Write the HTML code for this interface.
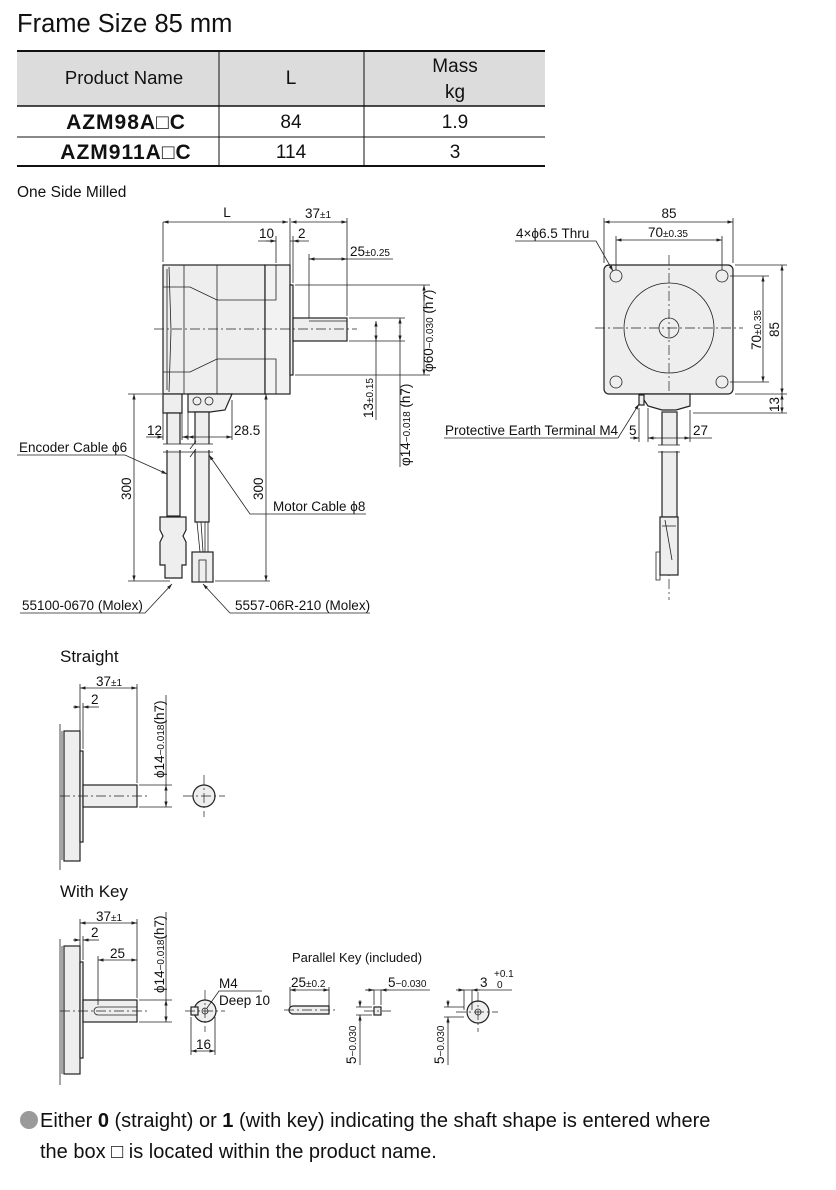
<!DOCTYPE html>
<html><head><meta charset="utf-8"><style>
html,body{margin:0;padding:0;background:#fff;}
svg{display:block;}
text{font-family:"Liberation Sans Narrow","Liberation Sans",sans-serif;fill:#111;}
.t{font-size:13.5px;}
.s{font-size:10px;}
.ln{stroke:#222;stroke-width:0.8;fill:none;}
.bd{stroke:#222;stroke-width:1.2;fill:#eeeeee;}
.cl{stroke:#222;stroke-width:0.7;stroke-dasharray:10 3 2 3;fill:none;}
</style></head><body>
<svg width="836" height="1190" viewBox="0 0 836 1190" xmlns="http://www.w3.org/2000/svg">
<defs>
<marker id="a" viewBox="0 0 10 10" refX="10" refY="5" markerWidth="7" markerHeight="7" orient="auto-start-reverse"><path d="M0,2 L10,5 L0,8 z" fill="#222"/></marker>
</defs>
<!-- Title -->
<text x="17" y="32" style="font-family:'Liberation Sans',sans-serif;font-size:25.5px">Frame Size 85 mm</text>
<!-- Table -->
<rect x="17" y="50" width="528" height="56" fill="#dcdcdc"/>
<line x1="17" y1="51" x2="545" y2="51" stroke="#111" stroke-width="2"/>
<line x1="17" y1="106" x2="545" y2="106" stroke="#111" stroke-width="1.5"/>
<line x1="17" y1="137" x2="545" y2="137" stroke="#111" stroke-width="1"/>
<line x1="17" y1="166" x2="545" y2="166" stroke="#111" stroke-width="2"/>
<line x1="219" y1="51" x2="219" y2="166" stroke="#111" stroke-width="1"/>
<line x1="364" y1="51" x2="364" y2="166" stroke="#111" stroke-width="1"/>
<text x="124" y="84" text-anchor="middle" style="font-size:18.5px">Product Name</text>
<text x="291" y="84" text-anchor="middle" style="font-size:19px">L</text>
<text x="455" y="72" text-anchor="middle" style="font-size:19px">Mass</text>
<text x="455" y="98" text-anchor="middle" style="font-size:19px">kg</text>
<text x="126" y="129" text-anchor="middle" style="font-family:'Liberation Sans',sans-serif;font-weight:bold;font-size:21px;letter-spacing:1px">AZM98A□C</text>
<text x="126" y="159" text-anchor="middle" style="font-family:'Liberation Sans',sans-serif;font-weight:bold;font-size:21px;letter-spacing:1px">AZM911A□C</text>
<text x="291" y="128" text-anchor="middle" style="font-size:19px">84</text>
<text x="291" y="158" text-anchor="middle" style="font-size:19px">114</text>
<text x="455" y="128" text-anchor="middle" style="font-size:19px">1.9</text>
<text x="455" y="158" text-anchor="middle" style="font-size:19px">3</text>
<text x="17" y="197" style="font-size:15.5px">One Side Milled</text>

<!-- ===== Side view ===== -->
<rect x="163" y="265" width="102" height="129" class="bd"/>
<rect x="265" y="265" width="25" height="129" class="bd" style="fill:#f2f2f2"/>
<rect x="290" y="285" width="3" height="90" class="bd"/>
<rect x="293" y="318" width="54" height="23" class="bd"/>
<line x1="309" y1="321" x2="347" y2="321" class="ln"/>
<line x1="184" y1="265" x2="184" y2="394" class="ln"/>
<line x1="217" y1="265" x2="217" y2="394" class="ln"/>
<path d="M167,269 L167,390 M169,267 L171,330 L169,392" class="ln"/>
<path d="M163,287 L190,287 L217,300 L276,300 L276,265" class="ln"/>
<path d="M163,372 L190,372 L217,359 L276,359 L276,394" class="ln"/>
<line x1="154" y1="329" x2="357" y2="329" class="cl"/>
<!-- cables side -->
<rect x="163" y="394" width="19" height="19" class="bd"/>
<rect x="167" y="413" width="13" height="103" class="bd"/>
<path d="M160,517 L186,517 L186,530 L183,536 L186,542 L186,565 L182,565 L182,578 L165,578 L165,565 L160,565 L160,542 L163,536 L160,530 Z" class="bd"/>
<path d="M188,394 L232,394 L225,410 L210,412 L188,412 Z" class="bd"/>
<circle cx="197" cy="401" r="4" class="ln"/><circle cx="209" cy="401" r="4" class="ln"/>
<rect x="195" y="412" width="14" height="110" class="bd"/>
<path d="M197,522 L200,552 M201,522 L203,552 M205,522 L205,552 M208,522 L208,552" class="ln"/>
<rect x="192" y="552" width="21" height="30" class="bd"/>
<rect x="199" y="560" width="7" height="22" class="ln"/>
<line x1="163" y1="447" x2="215" y2="447" stroke="#fff" stroke-width="6"/>
<path d="M163,444 L213,444 M163,452 L213,452 M190,449 L196,441 M190,457 L196,449" class="ln"/>
<!-- dims side -->
<line x1="163" y1="222" x2="163" y2="262" class="ln"/>
<line x1="290" y1="218" x2="290" y2="282" class="ln"/>
<line x1="347" y1="218" x2="347" y2="316" class="ln"/>
<line x1="163" y1="222" x2="288" y2="222" class="ln" marker-start="url(#a)" marker-end="url(#a)"/>
<line x1="291" y1="222" x2="347" y2="222" class="ln" marker-start="url(#a)" marker-end="url(#a)"/>
<text x="227" y="217" class="t" text-anchor="middle">L</text>
<text x="305" y="218" class="t">37<tspan class="s">±1</tspan></text>
<line x1="276" y1="236" x2="276" y2="263" class="ln"/>
<line x1="293" y1="236" x2="293" y2="283" class="ln"/>
<path d="M258,241 L276,241 M290,241 L309,241" class="ln"/>
<line x1="266" y1="241" x2="276" y2="241" class="ln" marker-end="url(#a)"/>
<line x1="300" y1="241" x2="293" y2="241" class="ln" marker-end="url(#a)"/>
<text x="259" y="238" class="t">10</text><text x="298" y="238" class="t">2</text>
<line x1="309" y1="254" x2="309" y2="318" class="ln"/>
<line x1="309" y1="259" x2="393" y2="259" class="ln"/>
<line x1="309" y1="259" x2="347" y2="259" class="ln" marker-start="url(#a)" marker-end="url(#a)"/>
<text x="350" y="256" class="t">25<tspan class="s">±0.25</tspan></text>
<path d="M295,285 L430,285 M295,375 L430,375 M349,318 L405,318 M349,341 L405,341" class="ln"/>
<line x1="424" y1="285" x2="424" y2="375" class="ln" marker-start="url(#a)" marker-end="url(#a)"/>
<line x1="400" y1="318" x2="400" y2="341" class="ln" marker-start="url(#a)" marker-end="url(#a)"/>
<line x1="400" y1="341" x2="400" y2="467" class="ln"/>
<line x1="376" y1="321" x2="376" y2="341" class="ln" marker-start="url(#a)" marker-end="url(#a)"/>
<line x1="376" y1="341" x2="376" y2="420" class="ln"/>
<text transform="translate(433,372) rotate(-90)" class="t">φ60<tspan class="s">−0.030</tspan> (h7)</text>
<text transform="translate(410,466) rotate(-90)" class="t">φ14<tspan class="s">−0.018</tspan> (h7)</text>
<text transform="translate(373,418) rotate(-90)" class="t">13<tspan class="s">±0.15</tspan></text>
<!-- 12 / 28.5 -->
<path d="M163,410 L163,440 M182,410 L182,440 M188,412 L188,440 M232,400 L232,440" class="ln"/>
<line x1="146" y1="437" x2="163" y2="437" class="ln" marker-end="url(#a)"/>
<line x1="190" y1="437" x2="182" y2="437" class="ln" marker-end="url(#a)"/>
<line x1="188" y1="437" x2="232" y2="437" class="ln" marker-start="url(#a)" marker-end="url(#a)"/>
<text x="147" y="435" class="t">12</text><text x="234" y="435" class="t">28.5</text>
<!-- 300 -->
<path d="M128,394 L162,394 M128,581 L170,581 M262,394 L290,394 M215,581 L270,581" class="ln"/>
<line x1="134" y1="394" x2="134" y2="581" class="ln" marker-start="url(#a)" marker-end="url(#a)"/>
<line x1="266" y1="394" x2="266" y2="581" class="ln" marker-start="url(#a)" marker-end="url(#a)"/>
<text transform="translate(131,500) rotate(-90)" class="t">300</text>
<text transform="translate(263,500) rotate(-90)" class="t">300</text>
<!-- leaders -->
<text x="19" y="452" class="t">Encoder Cable ϕ6</text>
<path d="M17,455 L125,455 L167,474" class="ln" marker-end="url(#a)"/>
<text x="273" y="511" class="t">Motor Cable ϕ8</text>
<path d="M366,514 L250,514 L209,455" class="ln" marker-end="url(#a)"/>
<text x="22" y="610" class="t">55100-0670 (Molex)</text>
<path d="M20,613 L145,613 L172,584" class="ln" marker-end="url(#a)"/>
<text x="235" y="610" class="t">5557-06R-210 (Molex)</text>
<path d="M370,613 L230,613 L203,584" class="ln" marker-end="url(#a)"/>

<!-- ===== Front view ===== -->
<rect x="604" y="265" width="129" height="129" rx="5" class="bd"/>
<circle cx="669" cy="328" r="45" class="ln"/>
<circle cx="669" cy="328" r="10" class="ln"/>
<g class="ln"><circle cx="616" cy="276" r="6"/><circle cx="722" cy="276" r="6"/><circle cx="616" cy="382" r="6"/><circle cx="722" cy="382" r="6"/></g>
<line x1="595" y1="328" x2="743" y2="328" class="cl"/>
<line x1="669" y1="255" x2="669" y2="600" class="cl"/>
<path d="M640,394 L690,394 L690,406 L676,410 L662,410 L648,406 Z" class="bd"/>
<rect x="639" y="395" width="5" height="10" class="bd"/>
<rect x="662" y="412" width="15" height="105" class="bd"/>
<line x1="658" y1="448" x2="680" y2="448" stroke="#fff" stroke-width="6"/>
<path d="M658,445 L680,445 M658,452 L680,452" class="ln"/>
<rect x="660" y="517" width="18" height="58" class="bd"/>
<path d="M656,552 L660,552 L660,580 L656,580 Z M665,520 L672,560 M662,526 L676,526" class="ln"/>
<!-- front dims -->
<path d="M604,218 L604,263 M733,218 L733,263 M616,236 L616,270 M722,236 L722,270" class="ln"/>
<line x1="604" y1="222" x2="733" y2="222" class="ln" marker-start="url(#a)" marker-end="url(#a)"/>
<line x1="616" y1="240" x2="722" y2="240" class="ln" marker-start="url(#a)" marker-end="url(#a)"/>
<text x="669" y="218" class="t" text-anchor="middle">85</text>
<text x="648" y="237" class="t">70<tspan class="s">±0.35</tspan></text>
<path d="M735,265 L787,265 M735,394 L787,394 M730,276 L769,276 M730,382 L769,382 M693,413 L787,413" class="ln"/>
<line x1="763" y1="276" x2="763" y2="382" class="ln" marker-start="url(#a)" marker-end="url(#a)"/>
<line x1="782" y1="265" x2="782" y2="394" class="ln" marker-start="url(#a)" marker-end="url(#a)"/>
<line x1="782" y1="394" x2="782" y2="413" class="ln" marker-start="url(#a)" marker-end="url(#a)"/>
<text transform="translate(761,350) rotate(-90)" class="t">70<tspan class="s">±0.35</tspan></text>
<text transform="translate(779,337) rotate(-90)" class="t">85</text>
<text transform="translate(779,412) rotate(-90)" class="t">13</text>
<text x="516" y="238" class="t">4×ϕ6.5 Thru</text>
<path d="M515,241 L596,241 L613,271" class="ln" marker-end="url(#a)"/>
<text x="445" y="435" class="t">Protective Earth Terminal M4</text>
<path d="M444,438 L618,438 L639,404" class="ln" marker-end="url(#a)"/>
<path d="M639,408 L639,442 M648,408 L648,442 M690,410 L690,442" class="ln"/>
<line x1="630" y1="438" x2="639" y2="438" class="ln" marker-end="url(#a)"/>
<line x1="656" y1="438" x2="648" y2="438" class="ln" marker-end="url(#a)"/>
<line x1="648" y1="438" x2="690" y2="438" class="ln" marker-end="url(#a)"/>
<line x1="690" y1="438" x2="712" y2="438" class="ln"/>
<text x="629" y="435" class="t">5</text><text x="693" y="435" class="t">27</text>

<!-- ===== Straight ===== -->
<text x="60" y="662" style="font-size:17px">Straight</text>
<rect x="64" y="731" width="16" height="130" class="bd"/>
<path d="M60,724 L60,870 M62,731 L62,860" class="ln"/>
<rect x="80" y="751" width="3" height="91" class="bd"/>
<rect x="83" y="785" width="54" height="22" class="bd"/>
<line x1="60" y1="796" x2="147" y2="796" class="cl"/>
<path d="M80,684 L80,749 M137,684 L137,783 M83,703 L83,749" class="ln"/>
<line x1="80" y1="688" x2="137" y2="688" class="ln" marker-start="url(#a)" marker-end="url(#a)"/>
<line x1="73" y1="707" x2="80" y2="707" class="ln" marker-end="url(#a)"/>
<line x1="90" y1="707" x2="83" y2="707" class="ln" marker-end="url(#a)"/>
<line x1="83" y1="707" x2="99" y2="707" class="ln"/>
<text x="96" y="686" class="t">37<tspan class="s">±1</tspan></text>
<text x="91" y="704" class="t">2</text>
<path d="M139,785 L172,785 M139,807 L172,807" class="ln"/>
<line x1="166" y1="785" x2="166" y2="807" class="ln" marker-start="url(#a)" marker-end="url(#a)"/>
<line x1="166" y1="785" x2="166" y2="695" class="ln"/>
<text transform="translate(164,778) rotate(-90)" class="t">ϕ14<tspan class="s">−0.018</tspan>(h7)</text>
<circle cx="204" cy="796" r="11" class="bd"/>
<line x1="183" y1="796" x2="225" y2="796" class="cl"/>
<line x1="204" y1="775" x2="204" y2="817" class="cl"/>

<!-- ===== With Key ===== -->
<text x="60" y="897" style="font-size:17px">With Key</text>
<rect x="64" y="946" width="16" height="128" class="bd"/>
<path d="M60,939 L60,1085 M62,946 L62,1074" class="ln"/>
<rect x="80" y="962" width="3" height="96" class="bd"/>
<rect x="83" y="1000" width="54" height="22" class="bd"/>
<path d="M98,1007 L137,1007 M98,1015 L137,1015 M98,1007 A4,4 0 0 0 98,1015" class="ln"/>
<line x1="60" y1="1011" x2="147" y2="1011" class="cl"/>
<path d="M80,919 L80,960 M137,919 L137,998 M83,936 L83,960 M98,956 L98,1005" class="ln"/>
<line x1="80" y1="923" x2="137" y2="923" class="ln" marker-start="url(#a)" marker-end="url(#a)"/>
<line x1="73" y1="940" x2="80" y2="940" class="ln" marker-end="url(#a)"/>
<line x1="90" y1="940" x2="83" y2="940" class="ln" marker-end="url(#a)"/>
<line x1="83" y1="940" x2="99" y2="940" class="ln"/>
<line x1="98" y1="960" x2="137" y2="960" class="ln" marker-start="url(#a)" marker-end="url(#a)"/>
<text x="96" y="921" class="t">37<tspan class="s">±1</tspan></text>
<text x="91" y="937" class="t">2</text>
<text x="110" y="958" class="t">25</text>
<path d="M139,1000 L172,1000 M139,1022 L172,1022" class="ln"/>
<line x1="166" y1="1000" x2="166" y2="1022" class="ln" marker-start="url(#a)" marker-end="url(#a)"/>
<line x1="166" y1="1000" x2="166" y2="912" class="ln"/>
<text transform="translate(164,993) rotate(-90)" class="t">ϕ14<tspan class="s">−0.018</tspan>(h7)</text>
<circle cx="205" cy="1011" r="11" class="bd"/>
<rect x="191" y="1007" width="7" height="8" class="bd"/>
<circle cx="205" cy="1011" r="3" class="ln"/>
<line x1="185" y1="1011" x2="225" y2="1011" class="cl"/>
<line x1="205" y1="990" x2="205" y2="1032" class="cl"/>
<text x="219" y="988" class="t">M4</text>
<text x="219" y="1005" class="t">Deep 10</text>
<path d="M262,991 L219,991 L207,1008" class="ln"/>
<path d="M191,1017 L191,1055 M215,1017 L215,1055" class="ln"/>
<line x1="191" y1="1051" x2="215" y2="1051" class="ln" marker-start="url(#a)" marker-end="url(#a)"/>
<text x="196" y="1049" class="t">16</text>
<!-- Parallel key -->
<text x="292" y="962" style="font-size:13px">Parallel Key (included)</text>
<path d="M293,1006 L329,1006 L329,1014 L293,1014 A4,4 0 0 1 293,1006 Z" class="bd"/>
<path d="M290,987 L290,1008 M329,987 L329,1008" class="ln"/>
<line x1="290" y1="990" x2="329" y2="990" class="ln" marker-start="url(#a)" marker-end="url(#a)"/>
<text x="291" y="987" class="t">25<tspan class="s">±0.2</tspan></text>
<line x1="284" y1="1010" x2="337" y2="1010" class="cl"/>
<rect x="374" y="1007" width="7" height="8" class="bd"/>
<line x1="364" y1="1011" x2="391" y2="1011" class="cl"/>
<path d="M374,990 L374,1005 M381,990 L381,1005 M365,990 L430,990" class="ln"/>
<line x1="366" y1="990" x2="374" y2="990" class="ln" marker-end="url(#a)"/>
<line x1="389" y1="990" x2="381" y2="990" class="ln" marker-end="url(#a)"/>
<text x="388" y="987" class="t">5<tspan class="s">−0.030</tspan></text>
<path d="M356,1007 L372,1007 M356,1015 L372,1015" class="ln"/>
<line x1="360" y1="1000" x2="360" y2="1007" class="ln" marker-end="url(#a)"/>
<line x1="360" y1="1022" x2="360" y2="1015" class="ln" marker-end="url(#a)"/>
<line x1="360" y1="1015" x2="360" y2="1065" class="ln"/>
<text transform="translate(356,1064) rotate(-90)" class="t">5<tspan class="s">−0.030</tspan></text>
<circle cx="478" cy="1012" r="11" class="bd"/>
<circle cx="478" cy="1012" r="3" class="ln"/>
<line x1="456" y1="1012" x2="498" y2="1012" class="cl"/>
<line x1="478" y1="992" x2="478" y2="1032" class="cl"/>
<path d="M464,990 L464,1010 M472,990 L472,1010 M460,990 L512,990" class="ln"/>
<line x1="456" y1="990" x2="464" y2="990" class="ln" marker-end="url(#a)"/>
<line x1="480" y1="990" x2="472" y2="990" class="ln" marker-end="url(#a)"/>
<text x="480" y="987" class="t">3</text><text x="494" y="977" class="s">+0.1</text><text x="497" y="988" class="s">0</text>
<path d="M444,1007 L464,1007 M444,1017 L464,1017" class="ln"/>
<line x1="448" y1="1000" x2="448" y2="1007" class="ln" marker-end="url(#a)"/>
<line x1="448" y1="1024" x2="448" y2="1017" class="ln" marker-end="url(#a)"/>
<line x1="448" y1="1017" x2="448" y2="1065" class="ln"/>
<text transform="translate(444,1064) rotate(-90)" class="t">5<tspan class="s">−0.030</tspan></text>

<!-- footnote -->
<circle cx="29" cy="1120" r="9" fill="#9a9a9a"/>
<text x="40" y="1127" style="font-family:'Liberation Sans',sans-serif;font-size:20px">Either <tspan font-weight="bold">0</tspan> (straight) or <tspan font-weight="bold">1</tspan> (with key) indicating the shaft shape is entered where</text>
<text x="40" y="1158" style="font-family:'Liberation Sans',sans-serif;font-size:20px">the box □ is located within the product name.</text>
</svg>
</body></html>
